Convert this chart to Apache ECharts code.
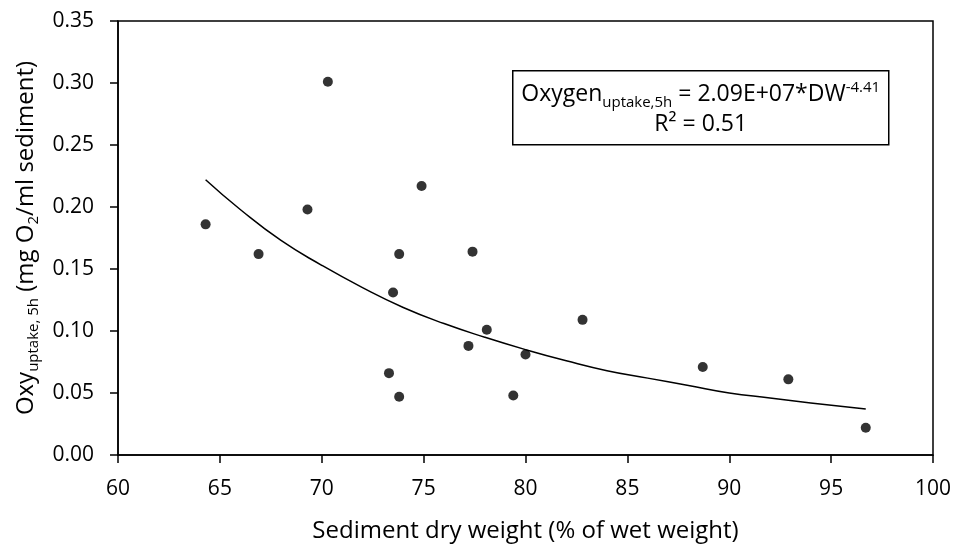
<!DOCTYPE html>
<html><head><meta charset="utf-8">
<script src="https://cdn.jsdelivr.net/npm/echarts@6/dist/echarts.min.js"></script>
<style>html,body{margin:0;padding:0;background:#fff}#c{width:957px;height:549px}</style>
</head><body><div id="c"></div>
<script>
// Observations: sediment dry weight (% of wet weight) and oxygen uptake (mg O2/ml sediment)
const dryWeight = [64.3, 66.9, 69.3, 70.3, 73.3, 73.5, 73.8, 73.8, 74.9, 77.2, 77.4, 78.1, 79.4, 80.0, 82.8, 88.7, 92.9, 96.7];
const oxyUptake = [0.186, 0.162, 0.198, 0.301, 0.066, 0.131, 0.162, 0.047, 0.217, 0.088, 0.164, 0.101, 0.048, 0.081, 0.109, 0.071, 0.061, 0.022];
// Power trendline
const trendX = [64.3, 66, 68, 70, 72, 74, 76, 78, 80, 82, 84, 86, 88, 90, 92, 94, 96.7];
const trendY = [0.222, 0.198, 0.173, 0.153, 0.135, 0.119, 0.106, 0.095, 0.085, 0.076, 0.068, 0.062, 0.056, 0.050, 0.046, 0.042, 0.037];
const xTicks = [60, 65, 70, 75, 80, 85, 90, 95, 100];
const yTicks = ['0.00','0.05','0.10','0.15','0.20','0.25','0.30','0.35'];

const FONT = 'Open Sans';
const chart = echarts.init(document.getElementById('c'), null, {renderer: 'canvas'});
chart.setOption({
  animation: false,
  backgroundColor: '#fff',
  textStyle: {fontFamily: FONT, color: '#000'},
  grid: {left: 118, right: 24, top: 21, bottom: 94, show: true, borderColor: '#000', borderWidth: 1.5},
  xAxis: {
    type: 'value', min: xTicks[0], max: xTicks[xTicks.length - 1], interval: 5,
    axisLine: {lineStyle: {color: '#000', width: 1.5}},
    axisTick: {inside: false, length: 8, lineStyle: {color: '#000', width: 1.5}},
    splitLine: {show: false},
    axisLabel: {color: '#000', fontSize: 21, fontFamily: FONT, margin: 24},
    name: 'Sediment dry weight (% of wet weight)', nameLocation: 'middle', nameGap: 64,
    nameTextStyle: {color: '#000', fontSize: 24, fontFamily: FONT}
  },
  yAxis: {
    type: 'value', min: 0, max: 0.35, interval: 0.05,
    axisLine: {lineStyle: {color: '#000', width: 1.5}},
    axisTick: {inside: false, length: 8, lineStyle: {color: '#000', width: 1.5}},
    splitLine: {show: false},
    axisLabel: {color: '#000', fontSize: 21, fontFamily: FONT, margin: 24,
      formatter: v => yTicks[Math.round(v / 0.05)]},
    name: 'Oxy{sub|uptake, 5h} (mg O{sub|2}/ml sediment)', nameLocation: 'middle', nameGap: 77, nameRotate: 90,
    nameTextStyle: {color: '#000', fontSize: 24, fontFamily: FONT, lineHeight: 30,
      rich: {sub: {fontSize: 15, fontFamily: FONT, color: '#000', verticalAlign: 'bottom', lineHeight: 30, padding: [10, 0, 0, 0]}}}
  },
  graphic: [{
    type: 'group', left: 512, top: 70,
    children: [
      {type: 'rect', shape: {x: 0, y: 0, width: 376, height: 74}, style: {fill: '#fff', stroke: '#000', lineWidth: 1.5}},
      {type: 'text', x: 188, y: 39, style: {
        text: 'Oxygen{sub|uptake,5h} = 2.09E+07*DW{sup|-4.41}\nR² = 0.51',
        align: 'center', verticalAlign: 'middle', fontSize: 23, fontFamily: FONT, fill: '#000', lineHeight: 30,
        rich: {
          sub: {fontSize: 15, fontFamily: FONT, fill: '#000', verticalAlign: 'bottom', lineHeight: 30, padding: [10,0,0,0]},
          sup: {fontSize: 15, fontFamily: FONT, fill: '#000', verticalAlign: 'top', lineHeight: 30, padding: [0,0,10,0]}
        }
      }}
    ]
  }],
  series: [
    {type: 'line', data: trendX.map((x, i) => [x, trendY[i]]), smooth: true, showSymbol: false,
     lineStyle: {color: '#000', width: 1.5}, z: 2},
    {type: 'scatter', data: dryWeight.map((x, i) => [x, oxyUptake[i]]), symbol: 'circle', symbolSize: 10,
     itemStyle: {color: '#000'}, z: 3}
  ]
});
</script></body></html>
